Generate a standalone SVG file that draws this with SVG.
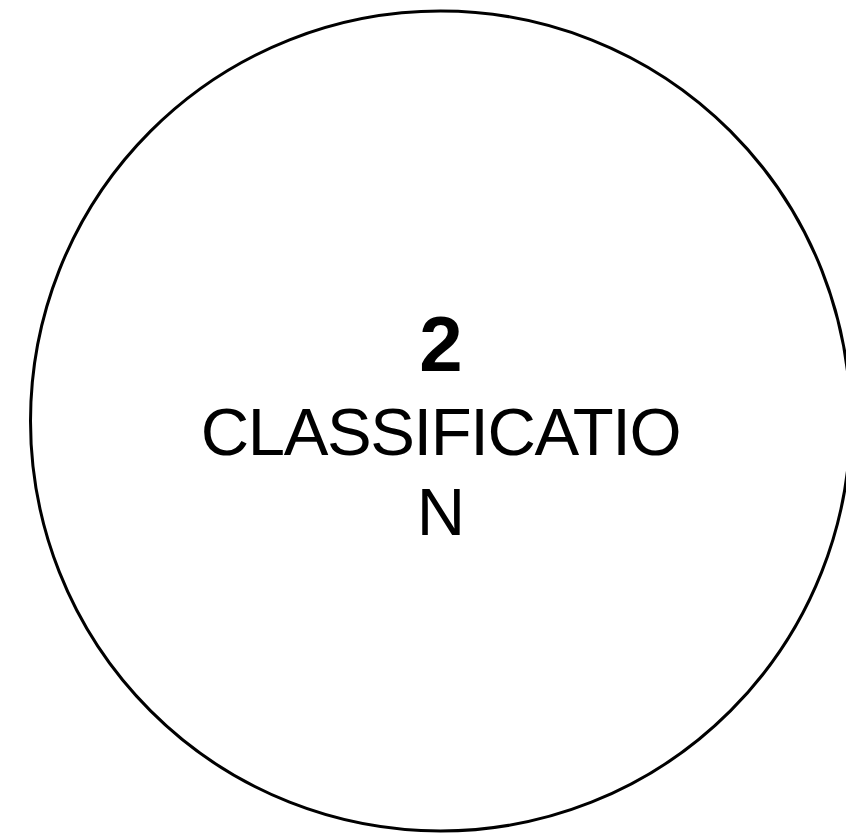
<svg xmlns="http://www.w3.org/2000/svg" width="846" height="836" viewBox="0 0 846 836">
<style>
.node{fill:#ffffff;stroke:#000000;stroke-width:3}
.t{font-family:"Liberation Sans",Arial,Helvetica,sans-serif;fill:#000000;text-anchor:middle}
</style>
<rect width="846" height="836" fill="#ffffff"/>
<g id="connectors"></g>
<g id="node-2">
<circle class="node" cx="440.5" cy="421" r="410"/>
<text class="t" x="441" y="371" font-size="78" font-weight="bold">2</text>
<text class="t" x="440.5" y="455" font-size="67" letter-spacing="-1.4">CLASSIFICATIO</text>
<text class="t" x="441" y="535" font-size="67">N</text>
</g>
</svg>
